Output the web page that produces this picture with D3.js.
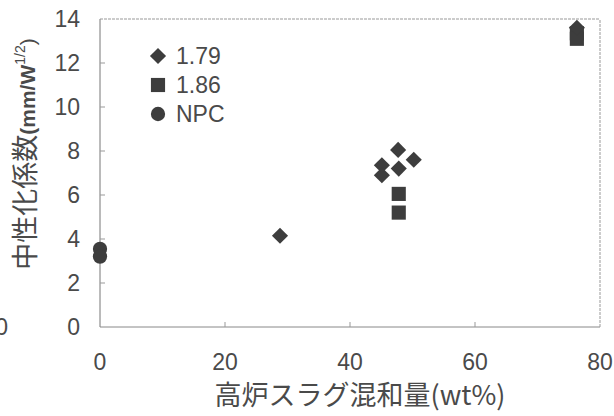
<!DOCTYPE html>
<html>
<head>
	<meta charset="utf-8">
	<style>
		body { margin: 0; background: #fff; }
		svg { display: block; }
		.tick-label { font-family: "Liberation Sans", Arial, sans-serif; font-size: 23px; fill: #4a4a4a; }
		.legend-text { font-family: "Liberation Sans", Arial, sans-serif; font-size: 23px; fill: #4a4a4a; }
		.title { font-family: "Noto Sans CJK JP", sans-serif; fill: #4a4a4a; }
	</style>
</head>
<body>
<script src="https://d3js.org/d3.v7.min.js"></script>
<script>
	var xTicks = [0, 20, 40, 60, 80];
	var yTicks = [0, 2, 4, 6, 8, 10, 12, 14];
	var seriesNames = ["1.79", "1.86", "NPC"];
	var series179 = [[28.8, 4.15], [47.7, 8.05], [50.2, 7.6], [45.1, 7.35], [47.8, 7.2], [45.1, 6.9], [76.3, 13.6]];
	var series186 = [[47.8, 6.05], [47.8, 5.2], [76.3, 13.35], [76.3, 13.1]];
	var seriesNPC = [[0, 3.55], [0, 3.2]];

	var W = 614, H = 416;
	var x = d3.scaleLinear().domain([0, 80]).range([100, 600]);
	var y = d3.scaleLinear().domain([0, 14]).range([327, 19]);
	var ink = "#3d3d3d";

	var svg = d3.select("body").append("svg")
		.attr("width", W)
		.attr("height", H);

	// frame: solid left/bottom, dotted top/right
	svg.append("line").attr("x1", x(0)).attr("x2", x(0)).attr("y1", y(0)).attr("y2", y(14))
		.attr("stroke", "#777").attr("stroke-width", 1);
	svg.append("line").attr("x1", x(0)).attr("x2", x(80)).attr("y1", y(0)).attr("y2", y(0))
		.attr("stroke", "#888").attr("stroke-width", 1);
	svg.append("line").attr("x1", x(0)).attr("x2", x(80)).attr("y1", y(14)).attr("y2", y(14))
		.attr("stroke", "#999").attr("stroke-width", 1).attr("stroke-dasharray", "3,1");
	svg.append("line").attr("x1", x(80)).attr("x2", x(80)).attr("y1", y(0)).attr("y2", y(14))
		.attr("stroke", "#999").attr("stroke-width", 1).attr("stroke-dasharray", "3,1");

	// inward ticks
	svg.selectAll(".yt").data(yTicks.slice(1, -1)).enter().append("line")
		.attr("x1", x(0)).attr("x2", x(0) + 5)
		.attr("y1", function(d) { return y(d); }).attr("y2", function(d) { return y(d); })
		.attr("stroke", "#999");
	svg.selectAll(".xt").data(xTicks.slice(1, -1)).enter().append("line")
		.attr("x1", function(d) { return x(d); }).attr("x2", function(d) { return x(d); })
		.attr("y1", y(0)).attr("y2", y(0) - 5)
		.attr("stroke", "#999");

	// tick labels
	svg.selectAll(".ylab").data(yTicks).enter().append("text")
		.attr("class", "tick-label")
		.attr("x", 80)
		.attr("y", function(d) { return y(d) + 8; })
		.attr("text-anchor", "end")
		.text(function(d) { return d; });
	svg.selectAll(".xlab").data(xTicks).enter().append("text")
		.attr("class", "tick-label")
		.attr("x", function(d) { return x(d); })
		.attr("y", 370)
		.attr("text-anchor", "middle")
		.text(function(d) { return d; });

	// cut-off label from neighbouring figure
	svg.append("text").attr("class", "tick-label")
		.attr("x", 8).attr("y", y(0) + 8).attr("text-anchor", "end").text("0");

	// axis titles
	svg.append("text").attr("class", "title")
		.attr("x", 360).attr("y", 405)
		.attr("text-anchor", "middle")
		.style("font-size", "27px")
		.text("高炉スラグ混和量(wt%)");

	var yt = svg.append("text").attr("class", "title")
		.attr("transform", "translate(35,154) rotate(-90)")
		.attr("text-anchor", "middle")
		.style("font-size", "27px");
	yt.append("tspan").text("中性化係数");
	yt.append("tspan").style("font-family", "'Liberation Sans', Arial, sans-serif").style("font-size", "21px").style("font-weight", "bold").text("(mm/W");
	yt.append("tspan").style("font-family", "'Liberation Sans', Arial, sans-serif").style("font-size", "14px").attr("dy", -10).text("1/2");
	yt.append("tspan").style("font-family", "'Liberation Sans', Arial, sans-serif").style("font-size", "21px").attr("dy", 10).text(")");

	// markers
	var diamond = d3.symbol().type(d3.symbolSquare).size(130);
	var square = d3.symbol().type(d3.symbolSquare).size(200);
	var circle = d3.symbol().type(d3.symbolCircle).size(160);

	svg.selectAll(".npc").data(seriesNPC).enter().append("path")
		.attr("d", circle)
		.attr("transform", function(d) { return "translate(" + x(d[0]) + "," + y(d[1]) + ")"; })
		.attr("fill", ink);
	svg.selectAll(".s186").data(series186).enter().append("path")
		.attr("d", square)
		.attr("transform", function(d) { return "translate(" + x(d[0]) + "," + y(d[1]) + ")"; })
		.attr("fill", ink);
	svg.selectAll(".s179").data(series179).enter().append("path")
		.attr("d", diamond)
		.attr("transform", function(d) { return "translate(" + x(d[0]) + "," + y(d[1]) + ") rotate(45)"; })
		.attr("fill", ink);

	// legend
	var legendShapes = [diamond, square, circle];
	var legend = svg.selectAll(".leg").data(seriesNames).enter().append("g")
		.attr("transform", function(d, i) { return "translate(158," + (56 + i * 29) + ")"; });
	legend.append("path")
		.attr("d", function(d, i) { return legendShapes[i](); })
		.attr("transform", function(d, i) { return i === 0 ? "rotate(45)" : null; })
		.attr("fill", ink);
	legend.append("text")
		.attr("class", "legend-text")
		.attr("x", 18)
		.attr("y", 8)
		.text(function(d) { return d; });
</script>
</body>
</html>
